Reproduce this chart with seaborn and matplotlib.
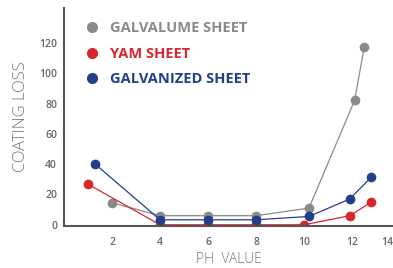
import numpy as np
import pandas as pd
import matplotlib
matplotlib.use('Agg')
import matplotlib.pyplot as plt
from matplotlib.lines import Line2D
import seaborn as sns

series_names = ['GALVALUME SHEET', 'YAM SHEET', 'GALVANIZED SHEET']
series_colors = ['#8a8a8c', '#d7262e', '#233e8b']

galvalume_ph = [2.0, 4.0, 6.0, 8.0, 10.2, 12.1, 12.5]
galvalume_loss = [14.5, 6.0, 6.0, 6.0, 11.0, 82.0, 117.0]
yam_ph = [1.0, 4.0, 6.0, 8.0, 10.0, 11.9, 12.8]
yam_loss = [26.8, 0.0, 0.0, 0.0, 0.0, 6.0, 15.0]
galvanized_ph = [1.3, 4.0, 6.0, 8.0, 10.2, 11.9, 12.8]
galvanized_loss = [40.0, 3.3, 3.3, 3.3, 5.5, 17.0, 31.5]

y_ticks = [0, 20, 40, 60, 80, 100, 120]
x_ticks = [2, 4, 6, 8, 10, 12]

df = pd.concat([
    pd.DataFrame({'ph': galvalume_ph, 'loss': galvalume_loss, 'sheet': series_names[0]}),
    pd.DataFrame({'ph': yam_ph, 'loss': yam_loss, 'sheet': series_names[1]}),
    pd.DataFrame({'ph': galvanized_ph, 'loss': galvanized_loss, 'sheet': series_names[2]}),
], ignore_index=True)

sns.set_style('white')
plt.rcParams['font.family'] = ['Open Sans', 'DejaVu Sans']

fig = plt.figure(figsize=(3.93, 2.68), dpi=100)
ax = fig.add_axes([64 / 393, 42 / 268, 329 / 393, 218 / 268])

palette = dict(zip(series_names, series_colors))
sns.lineplot(data=df, x='ph', y='loss', hue='sheet', palette=palette, sort=False,
             marker='o', markersize=7, markeredgewidth=0, linewidth=0.9,
             legend=False, ax=ax)

ax.set_xlim(0, 13.7)
ax.set_ylim(-0.8, 143)
ax.set_xticks(x_ticks)
ax.set_yticks(y_ticks)
ax.tick_params(axis='both', labelsize=7.5, labelcolor='#666666', colors='#555555')
ax.tick_params(axis='y', length=3, width=0.8, pad=2)
ax.tick_params(axis='x', length=0, pad=8)
for lab in ax.get_xticklabels() + ax.get_yticklabels():
    lab.set_fontweight('semibold')
ax.annotate('14', xy=(1.0, 0), xycoords='axes fraction', xytext=(-4, -8),
            textcoords='offset points', ha='center', va='top', fontsize=7.5,
            color='#666666', fontweight='semibold', annotation_clip=False)

sns.despine(ax=ax)
for s in ['left', 'bottom']:
    ax.spines[s].set_color('#555555')
    ax.spines[s].set_linewidth(1.5)

ax.set_xlabel('PH  VALUE', fontsize=10, color='#777777', fontweight='light', labelpad=3)
ax.set_ylabel('COATING LOSS', fontsize=12, color='#777777', fontweight='light', labelpad=7)

handles = [Line2D([], [], marker='o', linestyle='none', markersize=8,
                  markeredgewidth=0, color=c) for c in series_colors]
leg = ax.legend(handles, series_names, loc='upper left', bbox_to_anchor=(0.0, 1.0),
                frameon=False, handletextpad=0.25, labelspacing=0.8,
                prop={'size': 10.5, 'weight': 'bold'})
for t, c in zip(leg.get_texts(), series_colors):
    t.set_color(c)

fig.savefig('out.png', dpi=100)
